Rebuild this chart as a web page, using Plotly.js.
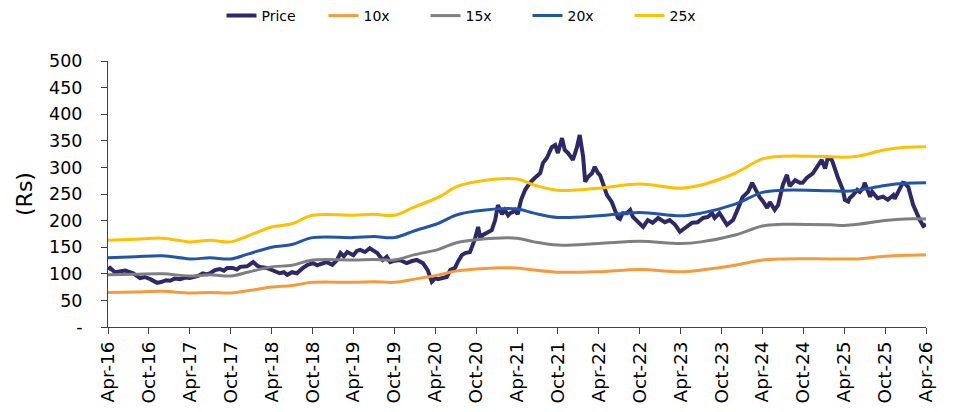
<!DOCTYPE html>
<html>
<head>
<meta charset="utf-8">
<script src="https://cdn.plot.ly/plotly-3.0.1.min.js"></script>
<style>html,body{margin:0;padding:0;background:#fff;}#chart{width:953px;height:412px;}</style>
</head>
<body>
<div id="chart"></div>
<script>
// x values: months since Apr-16
const tickMonths = [0,6,12,18,24,30,36,42,48,54,60,66,72,78,84,90,96,102,108,114,120];
const tickLabels = ["Apr-16","Oct-16","Apr-17","Oct-17","Apr-18","Oct-18","Apr-19","Oct-19","Apr-20","Oct-20","Apr-21","Oct-21","Apr-22","Oct-22","Apr-23","Oct-23","Apr-24","Oct-24","Apr-25","Oct-25","Apr-26"];
const yTickVals = [0,50,100,150,200,250,300,350,400,450,500];
const yTickText = ["-","50","100","150","200","250","300","350","400","450","500"];

const bandMonths = [0,4,8,12,15,18,20.5,24,27,30,36,39,42,45,48.5,51,54,60,62.5,66,72,78,84,87,92,96,99,106,108,110,114,117,120];
const band25 = [163,165,167,160,163,160,171,188,194,210,210,212,210,226,244,263,273,278,267,257,261,269,261,267,289,316,321,320,319,321,333,338,339];
const band20 = [130,132,134,128,130,128,137,150,155,168,168,170,168,181,195,210,218,222,214,206,209,215,209,214,231,253,257,256,255,257,266,270,271];
const band15 = [98,99,100,96,98,96,103,113,116,126,126,127,126,136,146,158,164,167,160,154,157,161,157,160,173,190,193,192,191,193,200,203,203];
const band10 = [65,66,67,64,65,64,68,75,78,84,84,85,84,90,98,105,109,111,107,103,104,108,104,107,116,126,128,128,128,128,133,135,136];

const priceMonths = [0,0.3,1.0,1.8,2.5,3.2,3.7,4.7,5.4,6.2,7.2,7.9,8.5,9.1,9.8,10.6,11.3,12.0,12.8,13.2,13.9,14.5,15.0,15.7,16.4,17.0,17.5,18.3,18.9,19.4,20.4,21.3,21.9,22.3,23.3,24.2,25.2,25.8,26.3,27.0,27.7,28.6,29.3,30.1,30.7,31.1,32.1,32.9,33.6,34.1,34.6,35.1,36.0,36.5,37.0,37.7,38.4,39.0,39.5,40.3,40.9,41.4,41.8,42.8,43.8,44.6,45.3,46.2,46.9,47.5,48.0,48.4,49.0,49.7,50.2,50.9,51.3,51.9,52.4,53.1,53.8,54.3,54.6,55.0,55.6,56.0,56.3,56.8,57.2,57.8,58.2,58.7,59.0,59.4,59.7,60.1,60.6,61.2,61.9,62.6,63.4,63.8,64.4,65.1,65.6,66.0,66.6,67.0,67.5,68.2,68.8,69.2,69.7,70.0,70.4,71.0,71.4,71.9,72.2,72.6,73.2,73.9,74.4,74.8,75.1,75.5,76.1,76.6,77.0,77.7,78.5,79.2,79.9,80.7,81.7,82.4,83.2,83.9,84.6,85.7,86.5,87.3,88.0,88.6,89.0,89.7,90.8,91.7,92.4,93.1,93.9,94.5,94.9,95.6,96.1,96.7,97.1,97.8,98.3,99.0,99.6,100.0,100.8,101.5,101.9,102.5,103.4,104.2,104.7,105.2,105.6,106.1,106.3,107.1,107.8,108.1,108.6,108.8,109.3,109.9,110.3,110.8,111.0,111.8,112.1,112.9,113.7,114.4,115.2,115.4,116.2,116.6,116.9,117.4,118.1,118.7,119.1,119.6,120.0];
const price = [108,111,103,104,106,103,101,92,94,90,83,85,88,87,91,90,93,92,95,96,101,99,101,107,109,106,111,111,108,113,114,122,115,113,111,107,101,103,98,103,101,111,117,120,116,118,122,117,126,139,133,141,135,143,145,141,148,143,139,126,132,122,124,126,120,124,126,120,107,85,92,90,92,94,107,111,122,135,139,141,164,188,167,173,177,179,182,201,229,212,220,210,214,216,220,212,239,258,271,280,289,308,318,338,342,327,355,333,327,314,338,361,320,273,282,289,301,289,285,270,248,235,218,205,203,214,214,220,207,197,188,201,196,205,197,201,192,179,186,196,197,205,207,214,205,214,192,201,222,244,254,271,261,244,236,224,235,220,229,267,286,265,276,271,271,280,289,305,314,298,318,316,310,280,258,239,236,242,248,258,254,262,271,245,254,242,245,239,248,241,261,271,270,263,230,212,201,190,193];

const names = ["Price","10x","15x","20x","25x"];
const colors = ["#2E2966","#F79A3A","#7F7F7F","#2155A8","#FFC000"];

const traces = [
  {x: priceMonths, y: price, name: names[0], mode: "lines", line: {color: colors[0], width: 4}},
  {x: bandMonths, y: band10, name: names[1], mode: "lines", line: {color: colors[1], width: 3, shape: "spline"}},
  {x: bandMonths, y: band15, name: names[2], mode: "lines", line: {color: colors[2], width: 3, shape: "spline"}},
  {x: bandMonths, y: band20, name: names[3], mode: "lines", line: {color: colors[3], width: 3, shape: "spline"}},
  {x: bandMonths, y: band25, name: names[4], mode: "lines", line: {color: colors[4], width: 3, shape: "spline"}}
];

const layout = {
  width: 953, height: 412,
  margin: {l: 108, r: 27, t: 61, b: 85},
  paper_bgcolor: "#fff", plot_bgcolor: "#fff",
  font: {family: "DejaVu Sans, Verdana, sans-serif", color: "#000"},
  showlegend: true,
  legend: {orientation: "h", xref: "container", yref: "container", x: 0.5, xanchor: "center", y: 1.0, yanchor: "top",
           font: {size: 14, color: "#000"}, traceorder: "normal", entrywidth: 57},
  xaxis: {range: [0, 120], tickvals: tickMonths, ticktext: tickLabels, tickangle: -90,
          showline: true, linecolor: "#404040", linewidth: 1, ticks: "outside", ticklen: 6, tickcolor: "#404040",
          showgrid: false, zeroline: false, tickfont: {size: 18.5, color: "#000"}},
  yaxis: {range: [0, 500], tickvals: yTickVals, ticktext: yTickText,
          showline: true, linecolor: "#404040", linewidth: 1, ticks: "outside", ticklen: 6, tickcolor: "#404040",
          showgrid: false, zeroline: false, tickfont: {size: 17.5, color: "#000"}, ticklabelstandoff: 15,
          title: {text: "(Rs)", font: {size: 22, color: "#000"}, standoff: 10}}
};

Plotly.newPlot("chart", traces, layout, {staticPlot: true, displayModeBar: false});
</script>
</body>
</html>
